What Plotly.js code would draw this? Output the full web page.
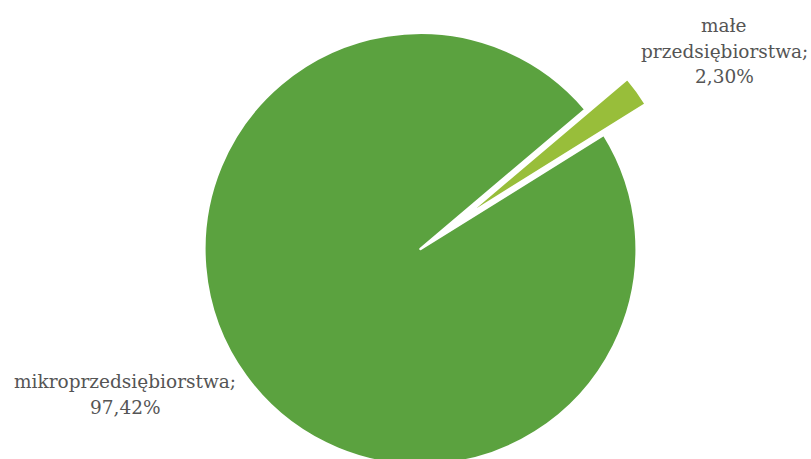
<!DOCTYPE html>
<html>
<head>
<meta charset="utf-8">
<script src="https://cdn.plot.ly/plotly-3.0.1.min.js"></script>
<style>
html,body{margin:0;padding:0;overflow:hidden;background:#fff;width:811px;height:459px;}
#chart{position:absolute;left:0;top:-19px;width:811px;height:536px;}
</style>
</head>
<body>
<div id="chart"></div>
<script>
// Data
const categories = ["mikroprzedsiębiorstwa", "małe przedsiębiorstwa"];
const shares = [97.42, 2.30];
const labelLines = [["mikroprzedsiębiorstwa;"], ["małe", "przedsiębiorstwa;"]];
const sliceColors = ["#5BA23F", "#98BE3A"];

const W = 811, H = 536, OFFSET = 19;
function fmt(v){ return v.toFixed(2).replace('.', ',') + '%'; }

// label block positions (page pixels: center x, first-line center y)
const labelPos = [[125, 381], [724, 25]];
const lineGap = 26;

const annotations = [];
categories.forEach((c, i) => {
  const lines = labelLines[i].concat([fmt(shares[i])]);
  lines.forEach((t, k) => {
    const py = labelPos[i][1] + k * lineGap + OFFSET;
    annotations.push({
      text: t, showarrow: false, xref: 'paper', yref: 'paper',
      x: labelPos[i][0] / W, y: 1 - py / H,
      xanchor: 'center', yanchor: 'middle',
      font: {family: 'DejaVu Serif', size: 18.5, color: '#555555'}
    });
  });
});

const cx = 420.5 / W;
const trace = {
  type: 'pie',
  labels: categories,
  values: shares,
  sort: false,
  direction: 'clockwise',
  rotation: 58.05,
  pull: [0, 0.24],
  textinfo: 'none',
  hoverinfo: 'label+value',
  marker: {colors: sliceColors, line: {color: '#ffffff', width: 2.5}},
  domain: {x: [cx - 0.35, cx + 0.35], y: [0, 1]},
  showlegend: false
};

Plotly.newPlot('chart', [trace], {
  width: W, height: H,
  margin: {l: 0, r: 0, t: 0, b: 0},
  paper_bgcolor: '#ffffff',
  showlegend: false,
  annotations: annotations
}, {displayModeBar: false, staticPlot: true});
</script>
</body>
</html>
